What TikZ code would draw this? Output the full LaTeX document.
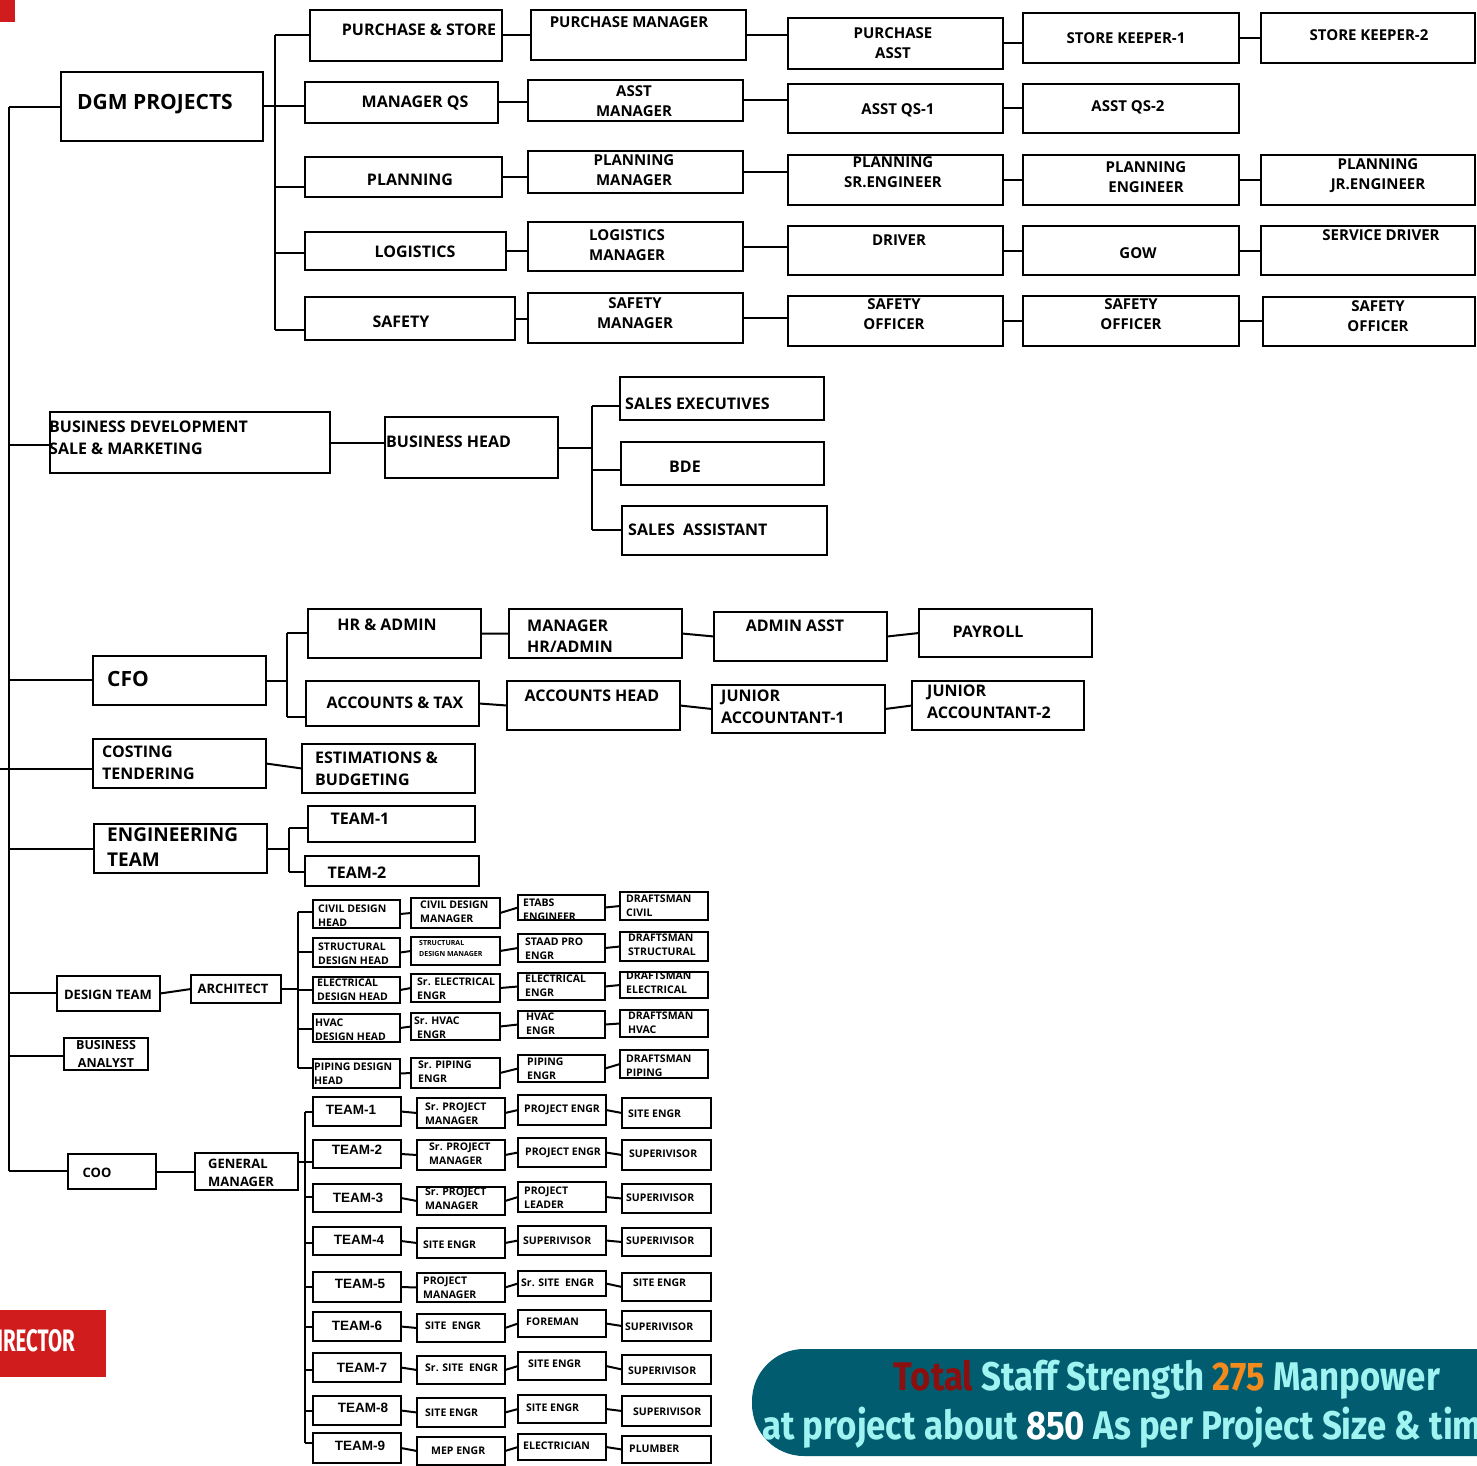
\documentclass[tikz,border=0pt]{standalone}
\usepackage{fontspec}
\newfontfamily\os{Open Sans}
\newfontfamily\ar{Liberation Sans}
\newfontfamily\fsb{Fira Sans}
\definecolor{banner}{HTML}{025C6F}
\definecolor{cyanT}{HTML}{9FF3F0}
\definecolor{totred}{HTML}{8C0F0F}
\definecolor{org}{HTML}{F28A1E}
\definecolor{dirred}{HTML}{D01C1C}
\newcommand\Bx[6][]{%
  \pgfmathsetmacro\bw{#5-#3}\pgfmathsetmacro\bh{#6-#4}%
  \pgfmathsetmacro\bcx{(#3+#5)/2}\pgfmathsetmacro\bcy{(#4+#6)/2}%
  \node[box,minimum width=\bw pt,minimum height=\bh pt,#1] (#2) at (\bcx,\bcy) {};}
\newcommand\Tx[5][]{\node[t,#1] (#2) at (#3,#4) {#5};}
\tikzset{
 box/.style={draw, line width=2pt, inner sep=0pt, outer sep=0pt},
 ln/.style={line width=2pt},
 t/.style={inner sep=0pt, align=center},
 fz/.style 2 args={font=\os\bfseries\fontsize{#1}{#2}\selectfont},
 s21/.style={fz={21}{26}},
 s19/.style={fz={19}{25}},
 s16/.style={fz={16}{21.5}},
 s15/.style={fz={15}{20}},
 s12/.style={fz={12.5}{18}},
 s10/.style={fz={10.5}{14}},
 s7/.style={fz={7}{11}},
 L/.style={anchor=west, align=left},
 tm/.style={font=\ar\bfseries\fontsize{13.5}{16}\selectfont},
}
\begin{document}
\begin{tikzpicture}[x=1pt,y=-1pt]
\useasboundingbox (0,0) rectangle (1477,1466);
\fill[dirred] (0,0) rectangle (15,22);

% ---------- top section ----------
\Bx{ps}{310}{10}{502}{61}
\Bx{pm}{531}{10}{746}{60}
\Bx{pa}{788}{18}{1003}{69}
\Bx{sk1}{1023}{13}{1239}{63}
\Bx{sk2}{1261}{13}{1475}{63}
\Bx{dgm}{61}{72}{263}{141}
\Bx{mqs}{305}{82}{498}{123}
\Bx{am}{528}{80}{743}{121}
\Bx{aq1}{788}{84}{1003}{133}
\Bx{aq2}{1023}{84}{1239}{133}
\Bx{pl}{305}{157}{502}{197}
\Bx{plm}{528}{151}{743}{193}
\Bx{pls}{788}{155}{1003}{205}
\Bx{ple}{1023}{155}{1239}{205}
\Bx{plj}{1261}{155}{1475}{205}
\Bx{lg}{305}{232}{506}{270}
\Bx{lgm}{528}{222}{743}{271}
\Bx{drv}{788}{226}{1003}{275}
\Bx{gow}{1023}{226}{1239}{275}
\Bx{sdr}{1261}{226}{1475}{275}
\Bx{sf}{305}{297}{515}{340}
\Bx{sfm}{528}{293}{743}{343}
\Bx{so1}{788}{296}{1003}{346}
\Bx{so2}{1023}{296}{1239}{346}
\Bx{so3}{1263}{297}{1475}{346}

\Tx[s16]{tps}{419}{30}{PURCHASE \& STORE}
\Tx[s15]{tpm}{629}{22}{PURCHASE MANAGER}
\Tx[s15]{tpa}{893}{43}{PURCHASE\\ASST}
\Tx[s15]{tsk1}{1126}{38}{STORE KEEPER-1}
\Tx[s15]{tsk2}{1369}{35}{STORE KEEPER-2}
\Tx[s21]{tdgm}{155}{104}{DGM PROJECTS}
\Tx[s16]{tmqs}{415}{103}{MANAGER QS}
\Tx[s15]{tam}{634}{101}{ASST\\MANAGER}
\Tx[s15]{taq1}{898}{110}{ASST QS-1}
\Tx[s15]{taq2}{1128}{107}{ASST QS-2}
\Tx[s16]{tpl}{410}{180}{PLANNING}
\Tx[s15]{tplm}{634}{170}{PLANNING\\MANAGER}
\Tx[s15]{tpls}{893}{172}{PLANNING\\SR.ENGINEER}
\Tx[s15]{tple}{1146}{177}{PLANNING\\ENGINEER}
\Tx[s15]{tplj}{1378}{176}{PLANNING\\JR.ENGINEER}
\Tx[s16]{tlg}{415}{252}{LOGISTICS}
\Tx[s15,L]{tlgm}{589}{245}{LOGISTICS\\MANAGER}
\Tx[s15]{tdrv}{899}{240}{DRIVER}
\Tx[s15]{tgow}{1138}{253}{GOW}
\Tx[s15]{tsdr}{1381}{235}{SERVICE DRIVER}
\Tx[s16]{tsf}{401}{322}{SAFETY}
\Tx[s15]{tsfm}{635}{313}{SAFETY\\MANAGER}
\Tx[s15]{tso1}{894}{314}{SAFETY\\OFFICER}
\Tx[s15]{tso2}{1131}{314}{SAFETY\\OFFICER}
\Tx[s15]{tso3}{1378}{316}{SAFETY\\OFFICER}

\draw[ln] (ps.east)--(ps.east -| pm.west) (pm.east)--(pm.east -| pa.west)
          (pa.east)--(pa.east -| sk1.west) (sk1.east)--(sk1.east -| sk2.west);
\draw[ln] (mqs.east)--(mqs.east -| am.west) (am.east)--(am.east -| aq1.west)
          (aq1.east)--(aq1.east -| aq2.west);
\draw[ln] (pl.east)--(pl.east -| plm.west) (plm.east)--(plm.east -| pls.west)
          (pls.east)--(pls.east -| ple.west) (ple.east)--(ple.east -| plj.west);
\draw[ln] (lg.east)--(lg.east -| lgm.west) (lgm.east)--(lgm.east -| drv.west)
          (drv.east)--(drv.east -| gow.west) (gow.east)--(gow.east -| sdr.west);
\draw[ln] (sf.east)--(sf.east -| sfm.west) (sfm.east)--(sfm.east -| so1.west)
          (so1.east)--(so1.east -| so2.west) (so2.east)--(so2.east -| so3.west);

\coordinate (b1a) at (275,35);
\coordinate (b1c) at (275,187);
\coordinate (b1d) at (275,253);
\coordinate (b1e) at (275,330);
\draw[ln] (b1a)--(b1e);
\draw[ln] (b1a)--(b1a -| ps.west) (b1c)--(b1c -| pl.west)
          (b1d)--(b1d -| lg.west) (b1e)--(b1e -| sf.west);
\draw[ln] (dgm.east)--(dgm.east -| mqs.west);

% ---------- trunk ----------
\coordinate (tr0) at (9,107);
\coordinate (tr1) at (9,445);
\coordinate (tr2) at (9,680);
\coordinate (tr3) at (0,769);
\coordinate (tr4) at (9,849);
\coordinate (tr5) at (9,993);
\coordinate (tr6) at (9,1056);
\coordinate (tr7) at (9,1171);
\draw[ln] (tr0)--(tr7);

% ---------- business development ----------
\Bx{bd}{50}{412}{330}{473}
\Bx{bh}{385}{417}{558}{478}
\Bx{se}{620}{377}{824}{420}
\Bx{bde}{621}{442}{824}{485}
\Bx{sa}{622}{506}{827}{555}
\Tx[s16,L]{tbd}{49}{438}{BUSINESS DEVELOPMENT\\SALE \& MARKETING}
\Tx[s16,L]{tbh}{386}{442}{BUSINESS HEAD}
\Tx[s16,L]{tse}{625}{404}{SALES EXECUTIVES}
\Tx[s16]{tbde}{685}{467}{BDE}
\Tx[s16,L]{tsa}{628}{530}{SALES\ \ ASSISTANT}
\draw[ln] (bd.east)--(bd.east -| bh.west);
\coordinate (b2a) at (592,406);
\coordinate (b2b) at (592,470);
\coordinate (b2c) at (592,530);
\draw[ln] (b2a)--(b2c);
\draw[ln] (bh.east)--(bh.east -| b2a);
\draw[ln] (b2a)--(b2a -| se.west) (b2b)--(b2b -| bde.west) (b2c)--(b2c -| sa.west);

% ---------- CFO ----------
\Bx{cfo}{93}{656}{266}{705}
\Bx{hr}{308}{609}{481}{658}
\Bx{mhr}{509}{609}{682}{658}
\Bx{aa}{714}{612}{887}{661}
\Bx{pay}{919}{609}{1092}{657}
\Bx{act}{306}{681}{479}{726}
\Bx{ach}{507}{681}{680}{730}
\Bx{ja1}{712}{685}{885}{733}
\Bx{ja2}{912}{681}{1084}{730}
\Tx[s21,L]{tcfo}{107}{679}{CFO}
\Tx[s16]{thr}{387}{625}{HR \& ADMIN}
\Tx[s16,L]{tmhr}{527}{636}{MANAGER\\HR/ADMIN}
\Tx[s16]{taa}{795}{626}{ADMIN ASST}
\Tx[s16]{tpay}{988}{632}{PAYROLL}
\Tx[s16]{tact}{395}{703}{ACCOUNTS \& TAX}
\Tx[s16]{tach}{592}{696}{ACCOUNTS HEAD}
\Tx[s16,L]{tja1}{721}{707}{JUNIOR\\ACCOUNTANT-1}
\Tx[s16,L]{tja2}{927}{702}{JUNIOR\\ACCOUNTANT-2}
\draw[ln] (hr.east)--(mhr.west) (mhr.east)--(aa.west) (aa.east)--(pay.west);
\draw[ln] (act.east)--(ach.west) (ach.east)--(ja1.west) (ja1.east)--(ja2.west);
\coordinate (b3a) at (287,633);
\coordinate (b3b) at (287,717);
\draw[ln] (b3a)--(b3b);
\draw[ln] (cfo.east)--(cfo.east -| b3a);
\draw[ln] (b3a)--(b3a -| hr.west) (b3b)--(b3b -| act.west);

% ---------- costing ----------
\Bx{ct}{93}{739}{266}{788}
\Bx{eb}{302}{744}{475}{793}
\Tx[s16,L]{tct}{102}{763}{COSTING\\TENDERING}
\Tx[s16,L]{teb}{315}{769}{ESTIMATIONS \&\\BUDGETING}
\draw[ln] (ct.east)--(eb.west);

% ---------- engineering ----------
\Bx{eng}{94}{824}{267}{873}
\Bx{et1}{308}{806}{475}{842}
\Bx{et2}{305}{856}{479}{886}
\Tx[s19,L]{teng}{107}{847}{ENGINEERING\\TEAM}
\Tx[s16]{tet1}{360}{819}{TEAM-1}
\Tx[s16]{tet2}{357}{873}{TEAM-2}
\coordinate (b4a) at (289,828);
\coordinate (b4b) at (289,872);
\draw[ln] (b4a)--(b4b);
\draw[ln] (eng.east)--(eng.east -| b4a);
\draw[ln] (b4a)--(b4a -| et1.west) (b4b)--(b4b -| et2.west);

% ---------- design ----------
\Bx{dt}{57}{976}{160}{1011}
\Bx{arc}{191}{975}{281}{1003}
\Tx[fz={13}{18}]{tdt}{108}{995}{DESIGN TEAM}
\Tx[fz={13}{18}]{tarc}{233}{989}{ARCHITECT}
\draw[ln] (dt.east)--(arc.west);

\Bx{c1}{313}{900}{400}{928}
\Bx{s1}{313}{938}{400}{967}
\Bx{e1}{313}{977}{400}{1003}
\Bx{h1}{313}{1014}{400}{1042}
\Bx{p1}{313}{1059}{400}{1088}
\Bx{c2}{411}{898}{500}{928}
\Bx{s2}{411}{937}{500}{965}
\Bx{e2}{411}{974}{500}{1002}
\Bx{h2}{411}{1013}{500}{1040}
\Bx{p2}{411}{1058}{500}{1088}
\Bx{c3}{518}{895}{605}{920}
\Bx{s3}{518}{934}{605}{962}
\Bx{e3}{518}{973}{605}{1000}
\Bx{h3}{518}{1011}{605}{1038}
\Bx{p3}{518}{1055}{605}{1082}
\Bx{c4}{620}{892}{708}{920}
\Bx{s4}{620}{932}{708}{961}
\Bx{e4}{620}{972}{708}{998}
\Bx{h4}{620}{1010}{708}{1037}
\Bx{p4}{620}{1050}{708}{1078}

\Tx[s10,L]{tc1}{318}{916}{CIVIL DESIGN\\HEAD}
\Tx[s10,L]{ts1}{318}{954}{STRUCTURAL\\DESIGN HEAD}
\Tx[s10,L]{te1}{317}{990}{ELECTRICAL\\DESIGN HEAD}
\Tx[s10,L]{th1}{315}{1030}{HVAC\\DESIGN HEAD}
\Tx[s10,L]{tp1}{314}{1074}{PIPING DESIGN\\HEAD}
\Tx[s10,L]{tc2}{420}{912}{CIVIL DESIGN\\MANAGER}
\Tx[s7,L]{ts2}{419}{948}{STRUCTURAL\\DESIGN MANAGER}
\Tx[s10,L]{te2}{417}{989}{Sr. ELECTRICAL\\ENGR}
\Tx[s10,L]{th2}{414}{1028}{Sr. HVAC\\\hspace*{3pt}ENGR}
\Tx[s10,L]{tp2}{418}{1072}{Sr. PIPING\\ENGR}
\Tx[s10,L]{tc3}{523}{910}{ETABS\\ENGINEER}
\Tx[s10,L]{ts3}{525}{949}{STAAD PRO\\ENGR}
\Tx[s10,L]{te3}{525}{986}{ELECTRICAL\\ENGR}
\Tx[s10,L]{th3}{526}{1024}{HVAC\\ENGR}
\Tx[s10,L]{tp3}{527}{1069}{PIPING\\ENGR}
\Tx[s10,L]{tc4}{626}{906}{DRAFTSMAN\\CIVIL}
\Tx[s10,L]{ts4}{628}{945}{DRAFTSMAN\\STRUCTURAL}
\Tx[s10,L]{te4}{626}{983}{DRAFTSMAN\\ELECTRICAL}
\Tx[s10,L]{th4}{628}{1023}{DRAFTSMAN\\HVAC}
\Tx[s10,L]{tp4}{626}{1066}{DRAFTSMAN\\PIPING}

\foreach \r in {c,s,e,h,p}{
  \draw[ln] (\r1.east)--(\r2.west) (\r2.east)--(\r3.west) (\r3.east)--(\r4.west);
}
\coordinate (b5a) at (298,912);
\coordinate (b5b) at (298,952);
\coordinate (b5c) at (298,990);
\coordinate (b5d) at (298,1029);
\coordinate (b5e) at (298,1068);
\draw[ln] (b5a)--(b5e);
\draw[ln] (arc.east)--(arc.east -| b5a);
\draw[ln] (b5a)--(b5a -| c1.west) (b5b)--(b5b -| s1.west) (b5c)--(b5c -| e1.west)
          (b5d)--(b5d -| h1.west) (b5e)--(b5e -| p1.west);

% ---------- business analyst ----------
\Bx{ba}{64}{1038}{148}{1070}
\Tx[s12]{tba}{106}{1054}{BUSINESS\\ANALYST}

% ---------- COO ----------
\Bx{coo}{68}{1154}{156}{1189}
\Bx{gm}{195}{1153}{298}{1190}
\Tx[fz={13}{18}]{tcoo}{97}{1173}{COO}
\Tx[fz={13}{18},L]{tgm}{208}{1173}{GENERAL\\MANAGER}
\draw[ln] (coo.east)--(gm.west);

% teams
\Bx{ta1}{313}{1097}{401}{1126} \Bx{tb1}{417}{1098}{505}{1128} \Bx{tc1x}{518}{1095}{606}{1125} \Bx{td1}{622}{1098}{711}{1128}
\Bx{ta2}{313}{1140}{401}{1168} \Bx{tb2}{417}{1140}{505}{1170} \Bx{tc2x}{518}{1138}{606}{1167} \Bx{td2}{622}{1140}{711}{1170}
\Bx{ta3}{313}{1184}{401}{1212} \Bx{tb3}{417}{1187}{505}{1215} \Bx{tc3x}{518}{1182}{606}{1212} \Bx{td3}{622}{1184}{711}{1213}
\Bx{ta4}{313}{1227}{401}{1255} \Bx{tb4}{417}{1228}{505}{1258} \Bx{tc4x}{518}{1226}{606}{1255} \Bx{td4}{622}{1228}{711}{1256}
\Bx{ta5}{313}{1272}{401}{1302} \Bx{tb5}{417}{1273}{505}{1302} \Bx{tc5x}{518}{1271}{606}{1296} \Bx{td5}{622}{1273}{711}{1301}
\Bx{ta6}{313}{1312}{401}{1341} \Bx{tb6}{417}{1314}{505}{1342} \Bx{tc6x}{518}{1310}{606}{1337} \Bx{td6}{622}{1311}{711}{1341}
\Bx{ta7}{313}{1353}{401}{1382} \Bx{tb7}{417}{1356}{505}{1384} \Bx{tc7x}{518}{1352}{606}{1380} \Bx{td7}{622}{1355}{711}{1384}
\Bx{ta8}{313}{1396}{401}{1425} \Bx{tb8}{417}{1398}{505}{1427} \Bx{tc8x}{518}{1395}{606}{1423} \Bx{td8}{622}{1396}{711}{1426}
\Bx{ta9}{313}{1433}{401}{1463} \Bx{tb9}{417}{1437}{505}{1465} \Bx{tc9x}{518}{1434}{606}{1460} \Bx{td9}{622}{1436}{711}{1463}

\foreach \n/\x/\y in {1/351/1110,2/357/1150,3/358/1198,4/359/1240,5/360/1284,6/357/1326,7/362/1368,8/363/1408,9/360/1446}{
  \node[t,tm] (tt\n) at (\x,\y) {TEAM-\n};
}
\Tx[s10,L]{ttb1}{425}{1114}{Sr. PROJECT\\MANAGER}
\Tx[s10,L]{ttb2}{429}{1154}{Sr. PROJECT\\MANAGER}
\Tx[s10,L]{ttb3}{425}{1199}{Sr. PROJECT\\MANAGER}
\Tx[s10,L]{ttb4}{423}{1245}{SITE ENGR}
\Tx[s10,L]{ttb5}{423}{1288}{PROJECT\\MANAGER}
\Tx[s10,L]{ttb6}{425}{1326}{SITE\ \ ENGR}
\Tx[s10,L]{ttb7}{425}{1368}{Sr. SITE\ \ ENGR}
\Tx[s10,L]{ttb8}{425}{1413}{SITE ENGR}
\Tx[s10,L]{ttb9}{431}{1451}{MEP ENGR}
\Tx[s10,L]{ttc1}{524}{1110}{PROJECT ENGR}
\Tx[s10,L]{ttc2}{525}{1153}{PROJECT ENGR}
\Tx[s10,L]{ttc3}{524}{1198}{PROJECT\\LEADER}
\Tx[s10,L]{ttc4}{523}{1241}{SUPERIVISOR}
\Tx[s10,L]{ttc5}{521}{1283}{Sr. SITE\ \ ENGR}
\Tx[s10,L]{ttc6}{526}{1322}{FOREMAN}
\Tx[s10,L]{ttc7}{528}{1364}{SITE ENGR}
\Tx[s10,L]{ttc8}{526}{1408}{SITE ENGR}
\Tx[s10,L]{ttc9}{523}{1446}{ELECTRICIAN}
\Tx[s10,L]{ttd1}{628}{1114}{SITE ENGR}
\Tx[s10,L]{ttd2}{629}{1154}{SUPERIVISOR}
\Tx[s10,L]{ttd3}{626}{1198}{SUPERIVISOR}
\Tx[s10,L]{ttd4}{626}{1241}{SUPERIVISOR}
\Tx[s10,L]{ttd5}{633}{1283}{SITE ENGR}
\Tx[s10,L]{ttd6}{625}{1327}{SUPERIVISOR}
\Tx[s10,L]{ttd7}{628}{1371}{SUPERIVISOR}
\Tx[s10,L]{ttd8}{633}{1412}{SUPERIVISOR}
\Tx[s10,L]{ttd9}{629}{1449}{PLUMBER}

\foreach \n in {1,...,9}{
  \draw[ln] (ta\n.east)--(tb\n.west) (tb\n.east)--(tc\n x.west) (tc\n x.east)--(td\n.west);
}
\coordinate (b6a) at (305,1112);
\coordinate (b6b) at (305,1162);
\coordinate (b6c) at (305,1197);
\coordinate (b6d) at (305,1243);
\coordinate (b6e) at (305,1287);
\coordinate (b6f) at (305,1327);
\coordinate (b6g) at (305,1370);
\coordinate (b6h) at (305,1411);
\coordinate (b6i) at (305,1443);
\draw[ln] (b6a)--(b6i);
\draw[ln] (gm.east |- b6b)--(b6b -| ta2.west);
\draw[ln] (b6a)--(b6a -| ta1.west) (b6c)--(b6c -| ta3.west) (b6d)--(b6d -| ta4.west)
          (b6e)--(b6e -| ta5.west) (b6f)--(b6f -| ta6.west) (b6g)--(b6g -| ta7.west)
          (b6h)--(b6h -| ta8.west) (b6i)--(b6i -| ta9.west);

% ---------- trunk branches ----------
\draw[ln] (tr0)--(tr0 -| dgm.west) (tr1)--(tr1 -| bd.west) (tr2)--(tr2 -| cfo.west)
          (tr3)--(tr3 -| ct.west) (tr4)--(tr4 -| eng.west) (tr5)--(tr5 -| dt.west)
          (tr6)--(tr6 -| ba.west) (tr7)--(tr7 -| coo.west);

% ---------- banner and director ----------
\begin{scope}
\clip (0,0) rectangle (1477,1466);
\fill[banner, rounded corners=52pt] (752,1349) rectangle (1560,1456);
\node[inner sep=0pt, text=cyanT] (bn1) at (1167,1380)
  {\scalebox{0.87}[1]{\fsb\bfseries\fontsize{40}{44}\selectfont\textcolor{totred}{Total} Staff Strength \textcolor{org}{275} Manpower}};
\node[inner sep=0pt, text=cyanT, anchor=west] (bn2) at (762,1428)
  {\scalebox{0.87}[1]{\fsb\bfseries\fontsize{40}{44}\selectfont at project about \textcolor{white}{850} As per Project Size \& time}};
\fill[dirred] (0,1310) rectangle (106,1377);
\node[inner sep=0pt, text=white, anchor=east] (dir) at (75,1341)
  {\scalebox{0.66}[1]{\fsb\bfseries\fontsize{31}{34}\selectfont DIRECTOR}};
\end{scope}
\end{tikzpicture}
\end{document}
